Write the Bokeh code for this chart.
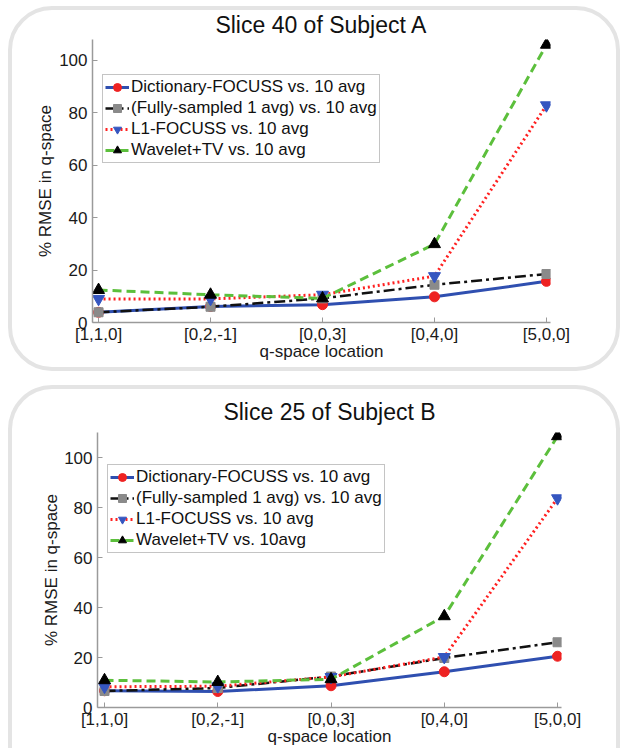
from bokeh.plotting import figure
from bokeh.models import Range1d, FixedTicker, Legend, LegendItem, Title
from bokeh.embed import file_html
from bokeh.resources import INLINE

categories = ["[1,1,0]", "[0,2,-1]", "[0,0,3]", "[0,4,0]", "[5,0,0]"]
y_ticks = [0, 20, 40, 60, 80, 100]

# Slice 40 of Subject A
a_dict = [3.9, 6.1, 6.8, 9.8, 15.7]
a_full = [3.9, 6.0, 9.2, 14.4, 18.5]
a_l1 = [9.0, 9.0, 10.6, 17.7, 82.9]
a_wav = [12.4, 10.6, 9.2, 29.9, 106.0]

# Slice 25 of Subject B
b_dict = [6.7, 6.4, 8.7, 14.3, 20.5]
b_full = [6.6, 7.8, 12.4, 19.8, 26.1]
b_l1 = [8.3, 8.5, 12.2, 20.2, 83.7]
b_wav = [10.9, 10.2, 11.3, 36.5, 108.5]

labels_a = ["Dictionary-FOCUSS vs. 10 avg", "(Fully-sampled 1 avg) vs. 10 avg",
            "L1-FOCUSS vs. 10 avg", "Wavelet+TV vs. 10 avg"]
labels_b = ["Dictionary-FOCUSS vs. 10 avg", "(Fully-sampled 1 avg) vs. 10 avg",
            "L1-FOCUSS vs. 10 avg", "Wavelet+TV vs. 10avg"]

FONT = "Liberation Sans"
xs = list(range(len(categories)))


def make(title, series, labels, x_rng, y_top, w, h, mb, legend_loc, box_style,
         title_standoff, ylab_standoff, margin):
    p = figure(width=w, height=h, output_backend="svg", toolbar_location=None,
               x_range=Range1d(*x_rng), y_range=Range1d(0, y_top),
               min_border_left=mb[0], min_border_right=mb[1],
               min_border_top=mb[2], min_border_bottom=mb[3])
    p.margin = margin
    p.styles = box_style
    p.border_fill_color = None
    p.background_fill_color = "white"
    p.outline_line_color = None
    p.grid.grid_line_color = None
    p.title = Title(text=title, text_font=FONT, text_font_size="23px",
                    text_font_style="normal", text_color="#111111", align="center",
                    vertical_align="top", standoff=title_standoff)

    for ax in (p.xaxis[0], p.yaxis[0]):
        ax.axis_line_color = "#9a9a9a"
        ax.axis_line_width = 1.5
        ax.major_tick_line_color = "#9a9a9a"
        ax.major_tick_in = 5
        ax.major_tick_out = 0
        ax.minor_tick_line_color = None
        ax.major_label_text_font = FONT
        ax.major_label_text_font_size = "17px"
        ax.major_label_text_color = "#1a1a1a"
        ax.axis_label_text_font = FONT
        ax.axis_label_text_font_size = "17px"
        ax.axis_label_text_font_style = "normal"
        ax.axis_label_text_color = "#1a1a1a"

    p.xaxis.ticker = FixedTicker(ticks=xs)
    p.xaxis.major_label_overrides = {i: c for i, c in enumerate(categories)}
    p.xaxis.major_label_standoff = 2
    p.xaxis.axis_label = "q-space location"
    p.xaxis.axis_label_standoff = -5
    p.yaxis.ticker = FixedTicker(ticks=y_ticks)
    p.yaxis.major_label_standoff = 5
    p.yaxis.axis_label = "% RMSE in q-space"
    p.yaxis.axis_label_standoff = ylab_standoff

    d, f, l1, wv = series
    items = []
    r1 = p.line(xs, d, line_color="#2f4fb0", line_width=3)
    m1 = p.scatter(xs, d, marker="circle", size=10, fill_color="#ee2222", line_color="#ee2222")
    r2 = p.line(xs, f, line_color="#111111", line_width=2.5, line_dash="11 4 3 4")
    m2 = p.scatter(xs, f, marker="square", size=9, fill_color="#8a8a8a", line_color="#8a8a8a")
    r3 = p.line(xs, l1, line_color="#ff2020", line_width=3, line_dash="2 3")
    m3 = p.scatter(xs, l1, marker="inverted_triangle", size=12, fill_color="#3556c0", line_color="#3556c0")
    r4 = p.line(xs, wv, line_color="#5cbf3c", line_width=3, line_dash="9 5")
    m4 = p.scatter(xs, wv, marker="triangle", size=12, fill_color="#000000", line_color="#000000")
    for lab, rs in zip(labels, [[r1, m1], [r2, m2], [r3, m3], [r4, m4]]):
        items.append(LegendItem(label=lab, renderers=rs))

    leg = Legend(items=items, location=legend_loc)
    leg.label_text_font = FONT
    leg.label_text_font_size = "17px"
    leg.label_text_color = "#111111"
    leg.glyph_width = 24
    leg.glyph_height = 20
    leg.label_height = 20
    leg.label_standoff = 2
    leg.spacing = 1
    leg.padding = 2
    leg.margin = 0
    leg.border_line_color = "#8a8a8a"
    leg.border_line_width = 1
    leg.background_fill_color = "white"
    leg.background_fill_alpha = 1
    p.add_layout(leg)
    return p


box1 = {"border": "4px solid #e4e4e4", "border-radius": "44px"}
box2 = {"border": "4px solid #e4e4e4", "border-bottom": "none",
        "border-radius": "44px 44px 0 0"}

p1 = make("Slice 40 of Subject A", (a_dict, a_full, a_l1, a_wav), labels_a,
          (-0.054, 4.036), 108.0, 612, 365, (80, 74, 29, 53), (10, 159), box1, 0, 1,
          (6, 0, 0, 8))
p2 = make("Slice 25 of Subject B", (b_dict, b_full, b_l1, b_wav), labels_b,
          (-0.062, 4.035), 110.0, 612, 363, (85, 63, 43, 45), (10, 154), box2, 11, 0,
          (14, 0, 0, 8))

open("out.html", "w").write(file_html([p1, p2], INLINE))
